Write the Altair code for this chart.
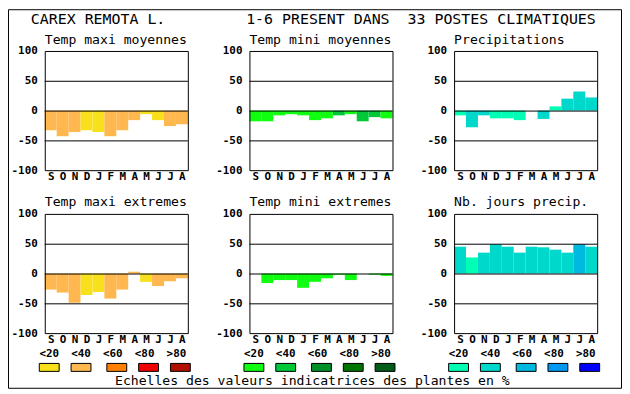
import altair as alt
import pandas as pd

# ---------------- data ----------------
months = ["S", "O", "N", "D", "J", "F", "M", "A", "M", "J", "J", "A"]
classes = ["<20", "<40", "<60", "<80", ">80"]
y_ticks = [100, 50, 0, -50, -100]
y_tick_labels = ["100", "50", "0", "-50", "-100"]

pal_tmax = ["#F8E01C", "#FFB850", "#FF8000", "#F00000", "#B01000"]
pal_tmin = ["#10FF10", "#00C838", "#009028", "#007400", "#005C18"]
pal_prec = ["#00FFB4", "#00D8CC", "#00B8E0", "#0098F0", "#0000FF"]

subtitles = ["Temp maxi moyennes", "Temp mini moyennes", "Precipitations",
             "Temp maxi extremes", "Temp mini extremes", "Nb. jours precip."]

tmax_moy = [-33, -43, -36, -33, -36, -43, -33, -16, -6, -16, -26, -23]
tmax_moy_cls = ["<40", "<40", "<40", "<20", "<20", "<40", "<40", "<40", "<20", "<20", "<40", "<40"]

tmin_moy = [-18, -18, -8, -6, -8, -16, -13, -8, -6, -18, -11, -13]
tmin_moy_cls = ["<20", "<20", "<20", "<20", "<20", "<20", "<20", "<40", "<20", "<40", "<40", "<20"]

precip = [-8, -28, -8, -13, -13, -16, 0, -14, 7, 20, 32, 22]
precip_cls = ["<20", "<40", "<40", "<20", "<20", "<20", "<20", "<40", "<20", "<40", "<40", "<40"]

tmax_ext = [-27, -32, -49, -36, -31, -42, -27, 3, -14, -21, -13, -8]
tmax_ext_cls = ["<40", "<40", "<40", "<20", "<20", "<40", "<40", "<40", "<20", "<40", "<40", "<40"]

tmin_ext = [0, -16, -11, -11, -24, -14, -8, -2, -11, 0, -2, -4]
tmin_ext_cls = ["<20"] * 12

nb_jours = [45, 27, 35, 49, 45, 35, 45, 44, 40, 35, 49, 45]
nb_jours_cls = ["<40", "<20", "<40", "<40", "<40", "<40", "<40", "<40", "<40", "<40", "<60", "<40"]

title_left = "CAREX REMOTA L."
title_right = "1-6 PRESENT DANS \u00a033 POSTES CLIMATIQUES"
footer = "Echelles des valeurs indicatrices des plantes en %"

# ---------------- layout ----------------
W, H = 618, 382
FONT = "DejaVu Sans Mono"
PANEL_X = [37, 243, 449]
PANEL_Y = [42, 206]
PW, PH = 144, 120
one = pd.DataFrame({"k": [0]})


def text_layer(text, x, y, size, bold=False, align="left"):
    return alt.Chart(one).mark_text(
        text=text, font=FONT, fontSize=size,
        fontWeight="bold" if bold else "normal",
        align=align, baseline="alphabetic", color="black",
    ).encode(x=alt.value(x), y=alt.value(y))


def panel(col, row, subtitle, values, cls, palette):
    x0 = PANEL_X[col]
    y0 = PANEL_Y[row]
    xs = alt.Scale(domain=[0, 12], range=[x0, x0 + PW], nice=False, zero=False)
    ys = alt.Scale(domain=[-100, 100], range=[y0 + PH, y0], nice=False, zero=False)

    bars_df = pd.DataFrame({
        "i": list(range(12)), "i1": list(range(1, 13)),
        "z": [0] * 12, "v": values, "c": cls,
    })
    bars = alt.Chart(bars_df).mark_rect().encode(
        x=alt.X("i:Q", scale=xs, axis=None), x2="i1:Q",
        y=alt.Y("z:Q", scale=ys, axis=None), y2="v:Q",
        color=alt.Color("c:N", scale=alt.Scale(domain=classes, range=palette), legend=None),
    )
    grid_df = pd.DataFrame({"g": [50, 0, -50], "a": [0] * 3, "b": [12] * 3})
    grid = alt.Chart(grid_df).mark_rule(
        color="black", strokeWidth=1, yOffset=0.5, y2Offset=0.5
    ).encode(
        x=alt.X("a:Q", scale=xs, axis=None), x2="b:Q",
        y=alt.Y("g:Q", scale=ys, axis=None),
    )
    frame_df = pd.DataFrame({"a": [0], "b": [12], "lo": [-100], "hi": [100]})
    frame = alt.Chart(frame_df).mark_rect(
        fillOpacity=0, stroke="black", strokeWidth=1,
        xOffset=0.5, x2Offset=0.5, yOffset=0.5, y2Offset=0.5,
    ).encode(
        x=alt.X("a:Q", scale=xs, axis=None), x2="b:Q",
        y=alt.Y("lo:Q", scale=ys, axis=None), y2="hi:Q",
    )
    ylab_df = pd.DataFrame({"v": y_ticks, "t": y_tick_labels})
    ylab = alt.Chart(ylab_df).mark_text(
        align="right", baseline="middle", font=FONT, fontSize=11,
        fontWeight="bold", color="black", yOffset=0.5,
    ).encode(
        x=alt.value(x0 - 7), y=alt.Y("v:Q", scale=ys, axis=None), text="t:N",
    )
    mlab_df = pd.DataFrame({"ic": [i + 0.5 for i in range(12)], "m": months})
    mlab = alt.Chart(mlab_df).mark_text(
        align="center", baseline="alphabetic", font=FONT, fontSize=11,
        fontWeight="bold", color="black", xOffset=0.5,
    ).encode(
        x=alt.X("ic:Q", scale=xs, axis=None), y=alt.value(y0 + PH + 10), text="m:N",
    )
    sub = text_layer(subtitle, x0, y0 - 7.5, 13.2)
    return alt.layer(bars, grid, frame, ylab, mlab, sub)


layers = []
series = [
    (0, 0, tmax_moy, tmax_moy_cls, pal_tmax),
    (1, 0, tmin_moy, tmin_moy_cls, pal_tmin),
    (2, 0, precip, precip_cls, pal_prec),
    (0, 1, tmax_ext, tmax_ext_cls, pal_tmax),
    (1, 1, tmin_ext, tmin_ext_cls, pal_tmin),
    (2, 1, nb_jours, nb_jours_cls, pal_prec),
]
for k, (c, r, vals, cl, pal) in enumerate(series):
    layers.append(panel(c, r, subtitles[k], vals, cl, pal))

# legends (one per column)
box_off = [-6, 26, 62, 94, 126]
lab_off = [4.5, 36.5, 68.5, 100.5, 132.5]
for c, pal in enumerate([pal_tmax, pal_tmin, pal_prec]):
    x0 = PANEL_X[c]
    for j in range(5):
        layers.append(
            alt.Chart(one).mark_rect(stroke="black", strokeWidth=1, color=pal[j]).encode(
                x=alt.value(x0 + box_off[j] + 0.5), x2=alt.value(x0 + box_off[j] + 20.5),
                y=alt.value(356.5), y2=alt.value(364.5),
            )
        )
        layers.append(text_layer(classes[j], x0 + lab_off[j], 349.7, 11, bold=True, align="center"))

# titles and footer
layers.append(text_layer(title_left, 23, 14.7, 15))
layers.append(text_layer(title_right, 239.7, 14.7, 15))
layers.append(text_layer(footer, 107.7, 378.5, 13.2))

# outer frame
layers.append(
    alt.Chart(one).mark_rect(fillOpacity=0, stroke="black", strokeWidth=1).encode(
        x=alt.value(0.5), x2=alt.value(W - 0.5), y=alt.value(0.5), y2=alt.value(H - 0.5),
    )
)

chart = alt.layer(*layers).resolve_scale(
    x="independent", y="independent", color="independent"
).properties(
    width=W, height=H, padding=0,
    autosize=alt.AutoSizeParams(type="none"),
    background="white",
).configure_view(strokeWidth=0)

chart.save("out.html", embed_options={"renderer": "svg", "actions": False})
